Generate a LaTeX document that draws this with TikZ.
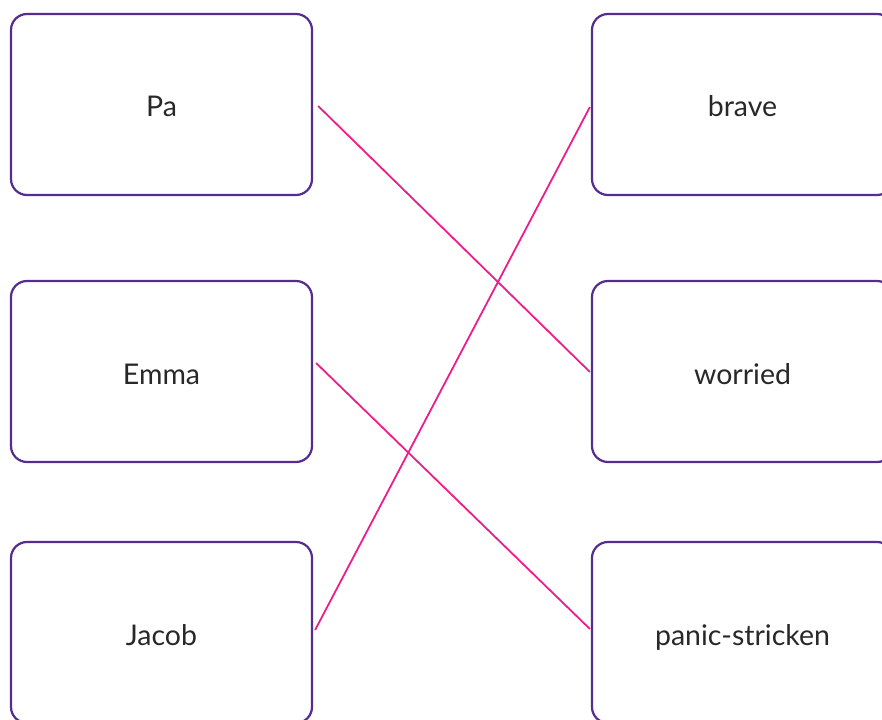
\documentclass[tikz,border=0pt]{standalone}
\usepackage{fontspec}
\setmainfont{Lato}
\definecolor{boxpurple}{RGB}{85,45,145}
\definecolor{linkpink}{RGB}{236,30,140}
\definecolor{txt}{RGB}{40,40,40}
\begin{document}
\begin{tikzpicture}[x=1pt,y=-1pt,
  card/.style={draw=boxpurple,line width=2.2pt,rounded corners=16pt,
    minimum width=301pt,minimum height=181pt,inner sep=0pt,
    text height=25pt,text depth=0pt,
    font=\fontsize{28.5}{34}\selectfont,text=txt},
  link/.style={draw=linkpink,line width=1.8pt}]
\useasboundingbox (0,0) rectangle (882,719);
\clip (0,0) rectangle (882,719);
\node[card] (pa) at (161.5,104.5) {Pa};
\node[card] (emma) at (161.5,371.5) {Emma};
\node[card] (jacob) at (161.5,632.5) {Jacob};
\node[card] (brave) at (742.5,104.5) {brave};
\node[card] (worried) at (742.5,371.5) {worried};
\node[card] (panic) at (742.5,632.5) {panic-stricken};
\draw[link] ([xshift=5pt,yshift=-1.5pt]pa.east) -- ([xshift=-1pt,yshift=-0.5pt]worried.west);
\draw[link] ([xshift=3pt,yshift=8.5pt]emma.east) -- ([xshift=-1pt,yshift=3.5pt]panic.west);
\draw[link] ([xshift=2pt,yshift=2.5pt]jacob.east) -- ([xshift=-1pt,yshift=-2.5pt]brave.west);
\end{tikzpicture}
\end{document}
